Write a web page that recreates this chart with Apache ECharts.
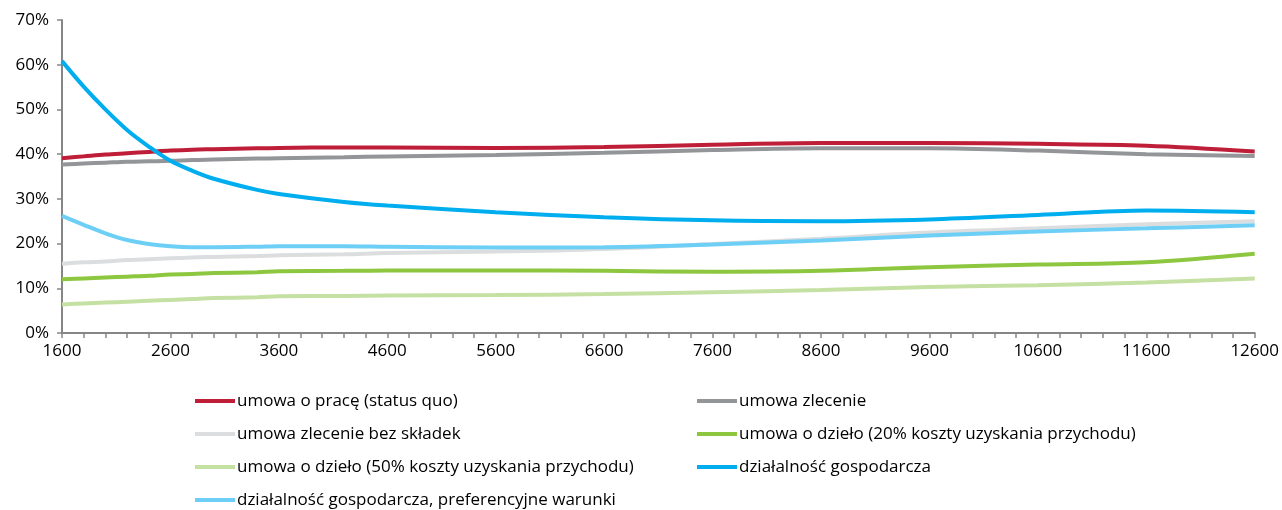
<!DOCTYPE html>
<html>
<head>
<meta charset="utf-8">
<script src="https://cdn.jsdelivr.net/npm/echarts@6/dist/echarts.min.js"></script>
<style>
  html, body { margin: 0; padding: 0; background: #fff; }
  #chart { width: 1282px; height: 510px; }
</style>
</head>
<body>
<div id="chart"></div>
<script>
// Gross income steps on the x axis (every 200, labelled every 1000)
const incomeSteps = Array.from({ length: 56 }, (_, i) => String(1600 + i * 200));

// Incomes at which the curves are sampled
const incomes = [1600, 1800, 2000, 2200, 2400, 2600, 2800, 3000, 3400, 3600,
                 4200, 4600, 5600, 6600, 7600, 8600, 9600, 10600, 11600, 12600];

// Burden in percent for each form of employment
const umowaOPrace      = [39.1, 39.5, 39.9, 40.2, 40.5, 40.8, 41.0, 41.1, 41.3, 41.4,
                          41.5, 41.5, 41.4, 41.6, 42.1, 42.5, 42.5, 42.3, 41.9, 40.6];
const umowaZlecenie    = [37.7, 37.9, 38.1, 38.3, 38.4, 38.5, 38.7, 38.8, 39.0, 39.1,
                          39.3, 39.5, 39.8, 40.3, 40.9, 41.3, 41.3, 40.8, 40.0, 39.6];
const zlecenieBezSkl   = [15.5, 15.8, 16.0, 16.3, 16.5, 16.7, 16.9, 17.0, 17.2, 17.4,
                          17.6, 17.9, 18.2, 18.8, 19.9, 21.1, 22.5, 23.4, 24.3, 25.0];
const dzielo20         = [12.0, 12.2, 12.4, 12.6, 12.8, 13.1, 13.2, 13.4, 13.6, 13.8,
                          13.9, 14.0, 14.0, 13.9, 13.7, 13.9, 14.7, 15.3, 15.8, 17.7];
const dzielo50         = [6.4, 6.6, 6.8, 7.0, 7.2, 7.4, 7.6, 7.8, 8.0, 8.2,
                          8.3, 8.4, 8.5, 8.7, 9.1, 9.6, 10.3, 10.7, 11.3, 12.2];
const dzialalnosc      = [60.8, 55.1, 50.0, 45.4, 41.7, 38.5, 36.3, 34.5, 32.0, 31.1,
                          29.3, 28.5, 27.0, 25.9, 25.2, 25.0, 25.4, 26.4, 27.4, 27.0];
const dzialalnoscPref  = [26.2, 24.2, 22.3, 20.8, 19.9, 19.4, 19.2, 19.2, 19.3, 19.4,
                          19.4, 19.3, 19.1, 19.2, 19.8, 20.7, 21.8, 22.7, 23.4, 24.1];

// Y axis ticks (percent)
const yTicks = { min: 0, max: 70, step: 10 };

const seriesDefs = [
  { name: 'umowa o pracę (status quo)', data: umowaOPrace, color: '#BE1E37' },
  { name: 'umowa zlecenie', data: umowaZlecenie, color: '#939598' },
  { name: 'umowa zlecenie bez składek', data: zlecenieBezSkl, color: '#DCDDDE' },
  { name: 'umowa o dzieło (20% koszty uzyskania przychodu)', data: dzielo20, color: '#8DC63F' },
  { name: 'umowa o dzieło (50% koszty uzyskania przychodu)', data: dzielo50, color: '#C5E0A3' },
  { name: 'działalność gospodarcza', data: dzialalnosc, color: '#00AEEF' },
  { name: 'działalność gospodarcza, preferencyjne warunki', data: dzialalnoscPref, color: '#6DCFF6' }
];

const FONT = '"Open Sans", sans-serif';
const axisGray = '#868686';

const legendCommon = {
  orient: 'vertical',
  top: 392,
  padding: 0,
  icon: 'rect',
  itemWidth: 40,
  itemHeight: 4,
  itemGap: 15,
  textStyle: { fontFamily: FONT, fontSize: 17, color: '#000', lineHeight: 18, padding: [0, 0, 0, -3] }
};

const chart = echarts.init(document.getElementById('chart'));
chart.setOption({
  animation: false,
  backgroundColor: '#fff',
  grid: { left: 62, right: 26, top: 20, bottom: 177, containLabel: false },
  legend: [
    Object.assign({}, legendCommon, { left: 195, data: [0, 2, 4, 6].map(i => seriesDefs[i].name) }),
    Object.assign({}, legendCommon, { left: 697, data: [1, 3, 5].map(i => seriesDefs[i].name) })
  ],
  xAxis: {
    type: 'category',
    data: incomeSteps,
    boundaryGap: false,
    axisLine: { lineStyle: { color: axisGray, width: 2 } },
    axisTick: { show: true, interval: 0, length: 5, lineStyle: { color: axisGray, width: 1.5 } },
    axisLabel: { interval: 4, margin: 10, fontFamily: FONT, fontSize: 17, color: '#000' },
    splitLine: { show: false }
  },
  yAxis: {
    type: 'value',
    min: yTicks.min,
    max: yTicks.max,
    interval: yTicks.step,
    axisLine: { show: true, lineStyle: { color: axisGray, width: 2 } },
    axisTick: { show: true, length: 5, lineStyle: { color: axisGray, width: 1.5 } },
    axisLabel: { formatter: '{value}%', margin: 13, fontFamily: FONT, fontSize: 17, color: '#000' },
    splitLine: { show: false }
  },
  series: seriesDefs.map(s => ({
    name: s.name,
    type: 'line',
    smooth: 0.35,
    showSymbol: false,
    symbol: 'none',
    color: s.color,
    lineStyle: { color: s.color, width: 4 },
    data: incomes.map((x, i) => [String(x), s.data[i]])
  }))
});
</script>
</body>
</html>
